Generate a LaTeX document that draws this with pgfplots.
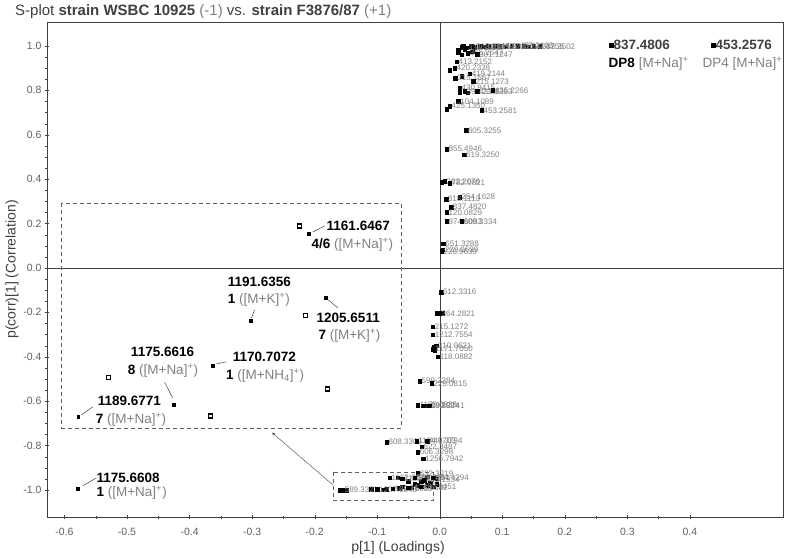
\documentclass[border=0pt]{standalone}
\usepackage{pgfplots}
\pgfplotsset{compat=1.18}
\usepackage{pgfplotstable}
\usepackage{fontspec}
\setmainfont{Liberation Sans}

\definecolor{axgray}{HTML}{404040}
\definecolor{lblgray}{HTML}{808080}
\definecolor{tickgray}{HTML}{606060}

% labelled loadings
\pgfplotstableread{
x y label
0.160 0.998 503.3502
0.142 0.997 293.1755
0.125 0.999 457.2103
0.105 0.997 587.2804
0.088 0.998 491.2331
0.070 0.996 315.1597
0.055 0.995 363.2149
0.042 0.992 335.1933
0.045 0.968 365.2647
0.060 0.962 301.1247
0.027 0.930 413.2152
0.024 0.900 420.2338
0.048 0.875 419.2144
0.025 0.855 315.1567
0.054 0.840 215.1273
0.032 0.810 430.9415
0.040 0.795 391.2345
0.060 0.795 433.2393
0.085 0.800 435.2266
0.030 0.750 104.1089
0.016 0.730 425.1350
0.067 0.710 453.2581
0.042 0.620 605.3255
0.011 0.535 855.4946
0.039 0.510 619.3250
0.008 0.390 262.2076
0.016 0.383 782.0821
0.032 0.320 254.1628
0.010 0.310 318.1113
0.018 0.275 837.4820
0.011 0.250 120.0829
0.011 0.210 874.6093
0.035 0.210 608.3334
0.006 0.110 651.3288
0.005 0.083 229.0639
0.003 0.075 226.9639
0.002 -0.108 612.3316
0.000 -0.205 364.2821
-0.011 -0.265 215.1272
-0.011 -0.300 1212.7554
-0.006 -0.350 210.0621
-0.010 -0.365 1171.7050
-0.003 -0.400 118.0882
-0.032 -0.510 599.2284
-0.013 -0.520 229.0815
-0.035 -0.617 1175.0838
-0.025 -0.620 413.2024
-0.017 -0.620 393.2741
-0.085 -0.785 608.3309
-0.037 -0.780 1194.0703
-0.020 -0.780 449.3794
-0.029 -0.805 622.3487
-0.035 -0.830 606.3298
-0.026 -0.860 1256.7942
-0.035 -0.925 632.3219
-0.080 -0.945 1162.6284
-0.060 -0.950 1183.6571
-0.040 -0.945 543.2761
-0.025 -0.955 428.1934
-0.010 -0.945 484.4294
-0.155 -1.000 589.3321
-0.100 -0.998 1207.6843
-0.075 -0.995 1221.6650
-0.050 -0.990 1176.6582
-0.030 -0.985 497.3451
}\labelled

\begin{document}
\begin{tikzpicture}
\begin{axis}[
    width=736pt, height=495pt, scale only axis,
    xmin=-0.628, xmax=0.549, ymin=-1.122, ymax=1.108,
    axis line style={axgray},
    xtick={-0.6,-0.5,...,0.41}, ytick={-1,-0.8,...,1.01},
    minor x tick num=1, minor y tick num=3,
    xtick pos=bottom, ytick pos=left,
    tick align=center, major tick length=4pt, minor tick length=3pt,
    tick style={axgray},
    /pgf/number format/assume math mode=true,
    /pgf/number format/.cd, fixed, fixed zerofill, precision=1, /pgfplots/.cd,
    ticklabel style={font=\fontsize{10.5}{11}\selectfont, text=tickgray},
    xticklabel style={yshift=-6pt},
    xlabel={p[1] (Loadings)}, ylabel={p(corr)[1] (Correlation)},
    label style={font=\fontsize{14}{15}\selectfont, text=axgray},
    xlabel style={yshift=1pt, xshift=-17pt}, ylabel style={yshift=-2pt},
    clip=false,
]
% zero lines
\draw[axgray] (axis cs:0,-1.122) -- (axis cs:0,1.108);
\draw[axgray] (axis cs:-0.628,0) -- (axis cs:0.549,0);

% unlabelled loadings (dense clusters)
\addplot[only marks, mark=square*, mark size=1.8pt, black] coordinates {
(0.035,0.995) (0.038,1.0) (0.050,1.0) (0.065,0.999) (0.078,1.0) (0.095,0.999)
(0.115,1.0) (0.135,0.999) (0.150,1.0) (0.030,0.98) (0.040,0.985) (0.035,0.96)
(0.030,0.97) (0.052,0.975) (0.016,0.89) (0.035,0.865) (0.032,0.79) (0.045,0.79)
(0.011,0.715) (0.003,0.385) (-0.005,-0.205) (0.004,-0.205) (-0.009,-0.355)
(-0.008,-0.372) (-0.027,-0.62)
(-0.160,-1.0) (-0.150,-1.0) (-0.110,-0.998) (-0.090,-0.999) (-0.085,-0.998)
(-0.065,-0.993) (-0.060,-0.985) (-0.045,-0.99) (-0.040,-0.975) (-0.035,-0.98)
(-0.020,-0.98) (-0.015,-0.97) (-0.010,-0.985) (-0.005,-0.975) (-0.067,-0.945)
(-0.050,-0.96) (-0.030,-0.96) (-0.020,-0.94) (-0.005,-0.95)
};
\addplot[only marks, mark=square*, mark size=1.8pt, black,
    nodes near coords, point meta=explicit symbolic,
    every node near coord/.append style={anchor=west, xshift=-1.5pt,
        font=\fontsize{8}{8}\selectfont, text=lblgray}]
    table[meta=label] {\labelled};

% highlighted DP8 / DP4
\addplot[only marks, mark=square*, mark size=1.8pt, black,
    nodes near coords, point meta=explicit symbolic,
    every node near coord/.append style={anchor=west, xshift=-1pt,
        font=\fontsize{13.5}{14}\selectfont\bfseries, text=axgray}]
    table[meta=label] {
x y label
0.274 1.003 837.4806
0.437 1.003 453.2576
};
\node[anchor=west, inner sep=0pt, font=\fontsize{13.5}{14}\selectfont] at (axis cs:0.270,0.919)
    {\textbf{DP8} \textcolor{lblgray}{[M+Na]\textsuperscript{+}}};
\node[anchor=west, inner sep=0pt, font=\fontsize{13.5}{14}\selectfont, text=lblgray] at (axis cs:0.420,0.919)
    {DP4 [M+Na]\textsuperscript{+}};

% magnified view
\addplot[only marks, mark=square*, mark size=1.4pt, black] coordinates {
(-0.210,0.153) (-0.302,-0.239) (-0.182,-0.135) (-0.426,-0.617)
(-0.363,-0.441) (-0.578,-0.671) (-0.579,-0.995)
};
\addplot[only marks, mark=square, mark size=2pt, black, line width=1.2pt] coordinates {
(-0.224,0.189) (-0.214,-0.216) (-0.530,-0.495) (-0.179,-0.545) (-0.366,-0.667)
};

\draw[tickgray, dash pattern=on 4pt off 3pt] (axis cs:-0.605,0.293) rectangle (axis cs:-0.062,-0.720);
\draw[tickgray, dash pattern=on 4pt off 3pt] (axis cs:-0.171,-0.919) rectangle (axis cs:-0.010,-1.045);
\draw[axgray, -stealth] (axis cs:-0.171,-0.977) -- (axis cs:-0.268,-0.742);

\begin{scope}[axgray, line width=0.5pt]
\draw (axis cs:-0.203,0.162) -- (axis cs:-0.184,0.189);
\draw (axis cs:-0.296,-0.189) -- (axis cs:-0.301,-0.225);
\draw (axis cs:-0.178,-0.144) -- (axis cs:-0.163,-0.180);
\draw (axis cs:-0.440,-0.514) -- (axis cs:-0.427,-0.586);
\draw (axis cs:-0.357,-0.432) -- (axis cs:-0.341,-0.423);
\draw (axis cs:-0.573,-0.662) -- (axis cs:-0.555,-0.626);
\draw (axis cs:-0.571,-0.982) -- (axis cs:-0.549,-0.946);
\end{scope}

\tikzset{big/.style={anchor=west, inner sep=0pt, font=\fontsize{13.5}{14}\selectfont}}
\node[big] at (axis cs:-0.181,0.189) {\textbf{1161.6467}};
\node[big] at (axis cs:-0.205,0.104) {\textbf{4/6} \textcolor{lblgray}{([M+Na]\textsuperscript{+})}};
\node[big] at (axis cs:-0.339,-0.063) {\textbf{1191.6356}};
\node[big] at (axis cs:-0.339,-0.144) {\textbf{1} \textcolor{lblgray}{([M+K]\textsuperscript{+})}};
\node[big] at (axis cs:-0.197,-0.225) {\textbf{1205.6511}};
\node[big] at (axis cs:-0.194,-0.306) {\textbf{7} \textcolor{lblgray}{([M+K]\textsuperscript{+})}};
\node[big] at (axis cs:-0.494,-0.378) {\textbf{1175.6616}};
\node[big] at (axis cs:-0.499,-0.464) {\textbf{8} \textcolor{lblgray}{([M+Na]\textsuperscript{+})}};
\node[big] at (axis cs:-0.331,-0.401) {\textbf{1170.7072}};
\node[big] at (axis cs:-0.342,-0.486) {\textbf{1} \textcolor{lblgray}{([M+NH\textsubscript{4}]\textsuperscript{+})}};
\node[big] at (axis cs:-0.547,-0.599) {\textbf{1189.6771}};
\node[big] at (axis cs:-0.550,-0.685) {\textbf{7} \textcolor{lblgray}{([M+Na]\textsuperscript{+})}};
\node[big] at (axis cs:-0.549,-0.946) {\textbf{1175.6608}};
\node[big] at (axis cs:-0.549,-1.013) {\textbf{1} \textcolor{lblgray}{([M+Na]\textsuperscript{+})}};

\coordinate (sw) at (rel axis cs:0,0);
\coordinate (ne) at (rel axis cs:1,1);
\coordinate (nw) at (rel axis cs:0,1);
\end{axis}
\node[anchor=base west, inner sep=0pt, font=\fontsize{15}{16}\selectfont, text=axgray]
    at ([shift={(-32pt,6pt)}]nw)
    {S-plot \textbf{strain WSBC 10925} \textcolor{lblgray}{(-1)} vs. \textbf{strain F3876/87} \textcolor{lblgray}{(+1)}};
\pgfresetboundingbox
\path ([shift={(-47pt,-40pt)}]sw) rectangle ([shift={(4pt,22pt)}]ne);
\end{tikzpicture}
\end{document}
